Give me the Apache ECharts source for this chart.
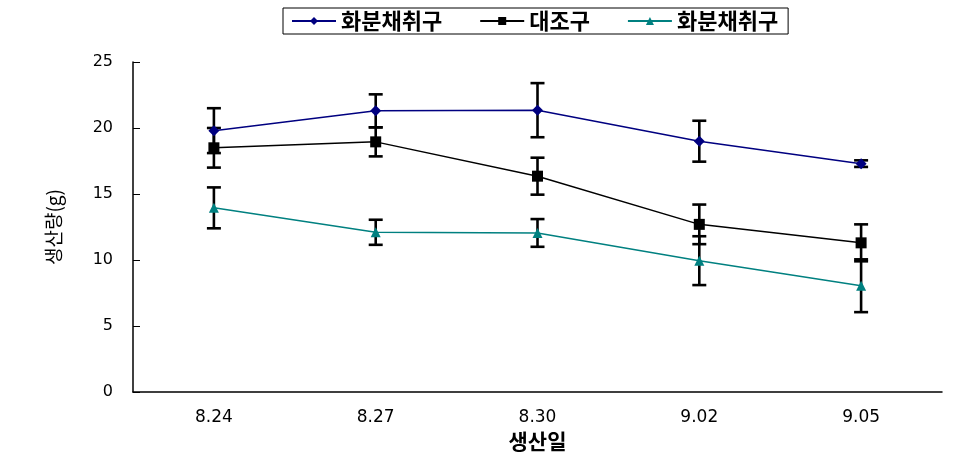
<!DOCTYPE html>
<html><head><meta charset="utf-8">
<script src="https://cdn.jsdelivr.net/npm/echarts@6/dist/echarts.min.js"></script>
<style>html,body{margin:0;padding:0;background:#fff}#c{width:970px;height:464px}</style>
</head><body><div id="c"></div>
<script>
const categories = ['8.24','8.27','8.30','9.02','9.05'];
const seriesNames = ['화분채취구','대조구','화분채취구'];
const pollenA = [19.8, 21.3, 21.35, 19.0, 17.3];
const pollenAErr = [1.7, 1.25, 2.05, 1.55, 0.25];
const control = [18.5, 18.95, 16.35, 12.7, 11.3];
const controlErr = [1.5, 1.1, 1.4, 1.5, 1.4];
const pollenB = [13.95, 12.1, 12.05, 9.95, 8.05];
const pollenBErr = [1.55, 0.95, 1.05, 1.85, 2.0];
const yTicks = [0, 5, 10, 15, 20, 25];

const chart = echarts.init(document.getElementById('c'));
function errData(vals, errs){ return vals.map((v,i)=>[i, v-errs[i], v+errs[i]]); }
function errSeries(vals, errs){
  return {
    type:'custom', silent:true, z:1,
    data: errData(vals, errs),
    renderItem: function(params, api){
      const lo = api.coord([api.value(0), api.value(1)]);
      const hi = api.coord([api.value(0), api.value(2)]);
      const hw = 7;
      const st = {stroke:'#000', lineWidth:2.6};
      return {type:'group', children:[
        {type:'line', shape:{x1:lo[0],y1:lo[1],x2:hi[0],y2:hi[1]}, style:st},
        {type:'line', shape:{x1:lo[0]-hw,y1:lo[1],x2:lo[0]+hw,y2:lo[1]}, style:st},
        {type:'line', shape:{x1:hi[0]-hw,y1:hi[1],x2:hi[0]+hw,y2:hi[1]}, style:st}
      ]};
    }
  };
}
const font = 'DejaVu Sans, Liberation Sans, sans-serif';
const kfont = 'Noto Sans CJK KR, sans-serif';
chart.setOption({
  animation:false,
  grid:{left:133, right:28, top:62, bottom:72},
  legend:{
    left:283, top:8,
    borderColor:'#000', borderWidth:1, padding:[2,10,2,8],
    itemWidth:44, itemHeight:10, itemGap:37,
    data: ['s0','s1','s2'],
    formatter: function(n){ return seriesNames[+n.slice(1)]; },
    textStyle:{fontFamily:kfont, fontSize:22, fontWeight:'bold', color:'#000'}
  },
  xAxis:{
    type:'category', data:categories, boundaryGap:true,
    name:'생산일', nameLocation:'middle', nameGap:38,
    nameTextStyle:{fontFamily:kfont, fontSize:21, fontWeight:'bold', color:'#000'},
    axisLine:{lineStyle:{color:'#000', width:1.5}},
    axisTick:{inside:true, length:7, lineStyle:{color:'#000'}},
    axisLabel:{fontFamily:font, fontSize:17, color:'#000', margin:17},
    splitLine:{show:false}
  },
  yAxis:{
    type:'value', min:yTicks[0], max:yTicks[yTicks.length-1], interval:5,
    name:'생산량(g)', nameLocation:'middle', nameGap:70, nameRotate:90,
    nameTextStyle:{fontFamily:kfont, fontSize:19, fontWeight:'normal', color:'#000'},
    axisLine:{show:true, lineStyle:{color:'#000', width:1.5}},
    axisTick:{show:true, inside:true, length:7, lineStyle:{color:'#000'}},
    axisLabel:{fontFamily:font, fontSize:16, color:'#000', margin:20},
    splitLine:{show:false}
  },
  series:[
    errSeries(pollenA, pollenAErr),
    errSeries(control, controlErr),
    errSeries(pollenB, pollenBErr),
    {name:'s0', type:'line', data:pollenA, z:3, symbol:'diamond', symbolSize:11,
     itemStyle:{color:'#000080'}, lineStyle:{color:'#000080', width:1.5}},
    {name:'s1', type:'line', data:control, z:3, symbol:'rect', symbolSize:11,
     itemStyle:{color:'#000'}, lineStyle:{color:'#000', width:1.5}},
    {name:'s2', type:'line', data:pollenB, z:3, symbol:'triangle', symbolSize:10,
     itemStyle:{color:'#008080'}, lineStyle:{color:'#008080', width:1.5}}
  ]
});
</script></body></html>
